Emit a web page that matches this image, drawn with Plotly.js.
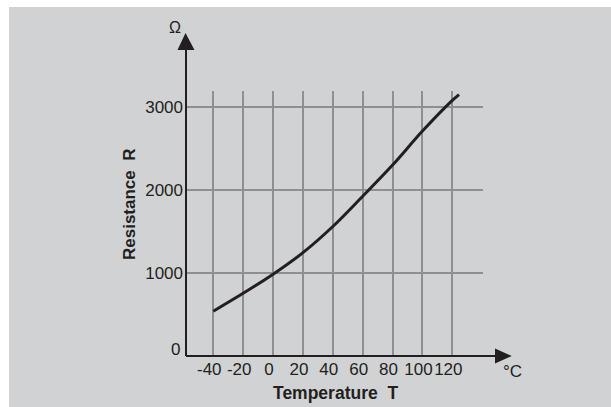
<!DOCTYPE html>
<html>
<head>
<meta charset="utf-8">
<script src="https://cdn.plot.ly/plotly-3.0.1.min.js"></script>
<style>
  html, body { margin: 0; padding: 0; background: #ffffff; width: 611px; height: 407px; overflow: hidden; }
  #chart { position: absolute; left: 9px; top: 7px; width: 602px; height: 400px; }
</style>
</head>
<body>
<div id="chart"></div>
<script>
// Data
const temperature = [-40, -20, 0, 20, 40, 60, 80, 100, 120, 124.5];
const resistance  = [540, 755, 985, 1245, 1560, 1925, 2300, 2710, 3080, 3150];

const xTickVals = [-40, -20, 0, 20, 40, 60, 80, 100, 120];
const xTickText = ['-40', '-20', '0', '20', '40', '60', '80', '100', '120'];
const yTickVals = [0, 1000, 2000, 3000];
const yTickText = ['0', '1000', '2000', '3000'];

const xTitle = 'Temperature  T';
const yTitle = 'Resistance  R';
const xUnit = '°C';
const yUnit = 'Ω';

const ink = '#231f20';
const gridCol = '#8e8f91';
const bg = '#d1d2d4';
const font = 'Liberation Sans, Arial, sans-serif';

const trace = {
  x: temperature, y: resistance, type: 'scatter', mode: 'lines',
  line: { color: ink, width: 3, shape: 'spline', smoothing: 1 },
  hoverinfo: 'skip'
};

const layout = {
  width: 602, height: 400,
  margin: { l: 177, r: 128, t: 84, b: 51, pad: 0 },
  paper_bgcolor: bg, plot_bgcolor: bg,
  showlegend: false,
  font: { family: font, size: 17, color: ink },
  xaxis: {
    range: [-58.27, 140.53], tickmode: 'array', tickvals: xTickVals, ticktext: xTickText,
    showgrid: true, gridcolor: gridCol, gridwidth: 2, zeroline: false, showline: false,
    ticks: '', tickangle: 0, ticklabelstandoff: 1, ticklabelshift: -4,
    tickfont: { family: font, size: 17, color: ink }, fixedrange: true
  },
  yaxis: {
    range: [0, 3192.8], tickmode: 'array', tickvals: yTickVals.slice(1), ticktext: yTickText.slice(1),
    showgrid: true, gridcolor: gridCol, gridwidth: 2, zeroline: false, showline: false,
    ticks: '', ticklabelstandoff: 2,
    tickfont: { family: font, size: 17, color: ink }, fixedrange: true
  },
  shapes: [
    // y axis line
    { type: 'line', xref: 'paper', yref: 'paper', x0: 0, x1: 0, y0: 0, y1: 1.16, line: { color: ink, width: 2 } },
    // y arrow head
    { type: 'path', xref: 'paper', yref: 'paper', path: 'M -0.0286 1.1547 L 0.0286 1.1547 L -0.0017 1.2189 Z', fillcolor: ink, line: { color: ink, width: 0 } },
    // x axis line
    { type: 'line', xref: 'paper', yref: 'paper', x0: 0, x1: 1.045, y0: 0, y1: 0, line: { color: ink, width: 2 } },
    // x arrow head
    { type: 'path', xref: 'paper', yref: 'paper', path: 'M 1.0404 -0.0283 L 1.0404 0.0283 L 1.0966 0 Z', fillcolor: ink, line: { color: ink, width: 0 } }
  ],
  annotations: [
    // the "0" label of the resistance axis sits a little above the axis line
    { text: yTickText[0], xref: 'paper', yref: 'y', x: (182 - 186) / 297, y: yTickVals[0], yshift: 7, showarrow: false,
      xanchor: 'right', yanchor: 'middle', font: { family: font, size: 17, color: ink } },
    { text: xTitle, xref: 'paper', yref: 'paper', x: (335 - 186) / 297, y: (356 - 393) / 265, showarrow: false,
      xanchor: 'center', yanchor: 'middle', font: { family: font, size: 17.5, color: ink, weight: 'bold' } },
    { text: yTitle, xref: 'paper', yref: 'paper', x: (129 - 186) / 297, y: (356 - 204) / 265, showarrow: false,
      textangle: -90, xanchor: 'center', yanchor: 'middle', font: { family: font, size: 17, color: ink, weight: 'bold' } },
    { text: yUnit, xref: 'paper', yref: 'paper', x: (175 - 186) / 297, y: (356 - 27) / 265, showarrow: false,
      xanchor: 'center', yanchor: 'middle', font: { family: font, size: 16, color: ink } },
    { text: xUnit, xref: 'paper', yref: 'paper', x: (512 - 186) / 297, y: (356 - 371) / 265, showarrow: false,
      xanchor: 'center', yanchor: 'middle', font: { family: font, size: 17, color: ink } }
  ]
};

Plotly.newPlot('chart', [trace], layout, { staticPlot: true, displayModeBar: false });
</script>
</body>
</html>
